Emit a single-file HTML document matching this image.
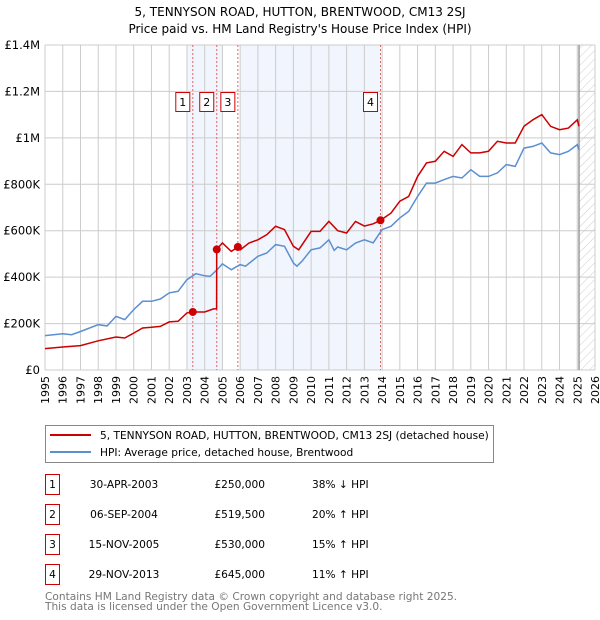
<!DOCTYPE html>
<html><head><meta charset="utf-8"><style>
body{margin:0;background:#fff;}
svg{display:block;font-family:"DejaVu Sans","Liberation Sans",sans-serif;}
</style></head><body>
<svg id="c" width="600" height="620" xmlns="http://www.w3.org/2000/svg">
<defs><pattern id="hatch" width="6" height="6" patternUnits="userSpaceOnUse" patternTransform="rotate(45)"><line x1="0" y1="0" x2="0" y2="6" stroke="#ccc" stroke-width="1"/></pattern></defs>
<text x="300" y="16" text-anchor="middle" font-size="12">5, TENNYSON ROAD, HUTTON, BRENTWOOD, CM13 2SJ</text>
<text x="300" y="33" text-anchor="middle" font-size="12">Price paid vs. HM Land Registry's House Price Index (HPI)</text>
<g id="plot"></g>
<g>
<rect x="45.5" y="425.5" width="448" height="37" fill="#fff" stroke="#888"/>
<line x1="50" y1="435" x2="91" y2="435" stroke="#cc0000" stroke-width="2"/>
<text x="100" y="439" font-size="10.6">5, TENNYSON ROAD, HUTTON, BRENTWOOD, CM13 2SJ (detached house)</text>
<line x1="50" y1="452" x2="91" y2="452" stroke="#5b8fd0" stroke-width="2"/>
<text x="100" y="456" font-size="10.6">HPI: Average price, detached house, Brentwood</text>
</g>
<g id="table" font-size="10.6"></g>
<text x="45" y="600" font-size="10.6" fill="#777">Contains HM Land Registry data © Crown copyright and database right 2025.</text>
<text x="45" y="610" font-size="10.6" fill="#777">This data is licensed under the Open Government Licence v3.0.</text>
</svg>
<script>
const hpiX=[1995,1996,1996.5,1997,1998,1998.5,1999,1999.5,2000,2000.5,2001,2001.5,2002,2002.5,2003,2003.5,2004,2004.3,2004.7,2005,2005.5,2006,2006.3,2007,2007.5,2008,2008.5,2009,2009.2,2009.5,2010,2010.5,2011,2011.3,2011.5,2012,2012.5,2013,2013.5,2014,2014.5,2015,2015.5,2016,2016.5,2017,2017.5,2018,2018.5,2019,2019.5,2020,2020.5,2021,2021.5,2022,2022.5,2023,2023.5,2024,2024.5,2025,2025.1];
const hpiY=[148,156,152,166,195,190,231,217,260,296,296,306,332,339,389,415,406,403,432,457,432,454,447,490,504,540,533,461,447,470,518,526,561,515,530,518,547,561,548,605,619,655,683,748,805,805,820,834,827,863,834,834,849,885,877,956,963,978,935,928,942,971,949];
const priceX=[1995,1996,1997,1998,1999,1999.5,2000,2000.5,2001,2001.5,2002,2002.5,2003,2003.33,2004,2004.5,2004.67,2004.68,2005,2005.5,2005.87,2006,2006.5,2007,2007.5,2008,2008.5,2009,2009.3,2010,2010.5,2011,2011.5,2012,2012.5,2013,2013.5,2013.91,2014.5,2015,2015.5,2016,2016.5,2017,2017.5,2018,2018.5,2019,2019.5,2020,2020.5,2021,2021.5,2022,2022.5,2023,2023.5,2024,2024.5,2025,2025.1];
const priceY=[92,99,105,126,142,138,159,181,184,188,207,210,246,250,250,263,263,519.5,547,511,530,518,547,561,583,619,605,533,518,597,597,640,600,590,640,620,630,645,676,727,748,834,892,899,942,920,971,935,935,942,985,978,978,1050,1078,1100,1050,1035,1042,1078,1050];
const saleLabels=["1","2","3","4"];
const saleX=[2003.33,2004.68,2005.87,2013.91];
const saleY=[250,519.5,530,645];
const saleDates=["30-APR-2003","06-SEP-2004","15-NOV-2005","29-NOV-2013"];
const salePrices=["£250,000","£519,500","£530,000","£645,000"];
const saleHpi=["38% ↓ HPI","20% ↑ HPI","15% ↑ HPI","11% ↑ HPI"];
const yTicks=[0,200,400,600,800,1000,1200,1400];
const yTickLabels=["£0","£200K","£400K","£600K","£800K","£1M","£1.2M","£1.4M"];
const xYears=[1995,1996,1997,1998,1999,2000,2001,2002,2003,2004,2005,2006,2007,2008,2009,2010,2011,2012,2013,2014,2015,2016,2017,2018,2019,2020,2021,2022,2023,2024,2025,2026];

const NS="http://www.w3.org/2000/svg";
const L=45,R=595,T=45,B=370;
const xs=v=>L+(v-1995)/(2026-1995)*(R-L);
const ys=v=>B-v/1400*(B-T);
function mk(tag,attrs,parent,text){const e=document.createElementNS(NS,tag);for(const k in attrs)e.setAttribute(k,attrs[k]);if(text!==undefined)e.textContent=text;parent.appendChild(e);return e;}
const g=document.getElementById('plot');
let b1=mk('rect',{x:xs(2003),y:T,width:xs(2005)-xs(2003),height:B-T,fill:'#eef3fc',opacity:0.8},g);


let b2=mk('rect',{x:xs(2006),y:T,width:xs(2013.91)-xs(2006),height:B-T,fill:'#eef3fc',opacity:0.8},g);


let hz=mk('rect',{x:xs(2025.1),y:T,width:R-xs(2025.1),height:B-T,fill:'url(#hatch)'},g);


xYears.forEach((yr,i)=>{
  let l=mk('line',{x1:xs(yr),x2:xs(yr),y1:T,y2:B,stroke:'#ccc','stroke-width':1},g);
  
  
  let t=mk('text',{x:0,y:0,'font-size':11,'text-anchor':'end',transform:`translate(${xs(yr)+4},${B+6}) rotate(-90)`},g,String(yr));
  
  
});
yTicks.forEach((v,i)=>{
  let l=mk('line',{x1:L,x2:R,y1:ys(v),y2:ys(v),stroke:'#ccc','stroke-width':1},g);
  
  
  let t=mk('text',{x:L-5,y:ys(v)+4,'font-size':11.5,'text-anchor':'end'},g,yTickLabels[i]);
  
  
});
let nl=mk('line',{x1:xs(2025.1),x2:xs(2025.1),y1:T,y2:B,stroke:'#999','stroke-width':1.5},g);


saleX.forEach((sx,i)=>{
  let l=mk('line',{x1:xs(sx),x2:xs(sx),y1:T,y2:B,stroke:'#e06666','stroke-width':1,'stroke-dasharray':'2,2'},g);
  
  
});
function path(X,Y){return X.map((x,i)=>(i?'L':'M')+xs(x).toFixed(1)+','+ys(Y[i]).toFixed(1)).join('');}
let hp=mk('path',{d:path(hpiX,hpiY),fill:'none',stroke:'#5b8fd0','stroke-width':1.5},g);


let pp=mk('path',{d:path(priceX,priceY),fill:'none',stroke:'#cc0000','stroke-width':1.5},g);


saleX.forEach((sx,i)=>{
  let c=mk('circle',{cx:xs(sx),cy:ys(saleY[i]),r:4,fill:'#cc0000'},g);
  
  
  let r=mk('rect',{x:xs(sx)-17,y:92.5,width:14,height:19,fill:'#fff',stroke:'#cc0000'},g);
  
  
  let t=mk('text',{x:xs(sx)-10,y:106,'font-size':11,'text-anchor':'middle'},g,saleLabels[i]);
  
  
});
const tb=document.getElementById('table');
saleLabels.forEach((s,i)=>{
  const cy=483+i*30;
  let r=mk('rect',{x:45.5,y:cy-8.5,width:14,height:20,fill:'#fff',stroke:'#cc0000'},tb);
  
  
  let t=mk('text',{x:52.5,y:cy+5,'text-anchor':'middle'},tb,s);
  
  
  let d=mk('text',{x:124,y:cy+5,'text-anchor':'middle'},tb,saleDates[i]);
  
  
  let p=mk('text',{x:265,y:cy+5,'text-anchor':'end'},tb,salePrices[i]);
  
  
  let h=mk('text',{x:312,y:cy+5},tb,saleHpi[i]);
  
  
});
</script>
</body></html>
